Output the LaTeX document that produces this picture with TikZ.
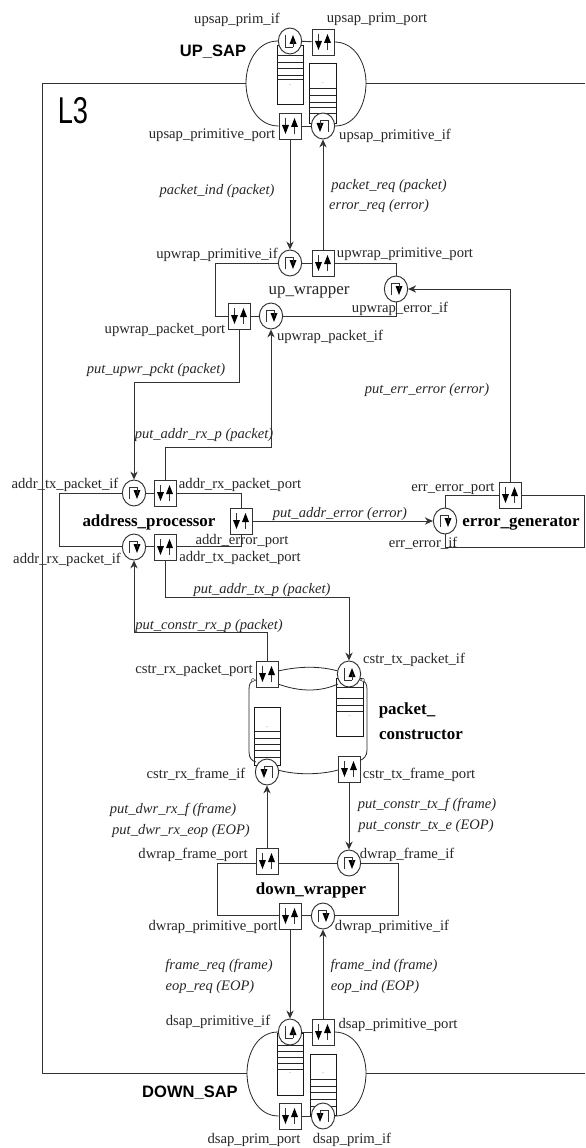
\documentclass[tikz,border=0pt]{standalone}
\usepackage{fontspec}
\setmainfont{Liberation Serif}
\setsansfont{Liberation Sans}
\usetikzlibrary{shapes.geometric,arrows.meta,calc}
\newcommand\dnarr[1]{\draw[line width=.7pt] (#1,-8) -- (#1,2);\fill[black] (#1-3.5,-1) -- (#1+3.5,-1) -- (#1,8) -- cycle;}
\newcommand\uparr[1]{\draw[line width=.7pt] (#1,8) -- (#1,-2);\fill[black] (#1-3.5,1) -- (#1+3.5,1) -- (#1,-8) -- cycle;}
\newcommand\lab[5][lbl]{\node[#1] (#2) at (#3,#4+1.5) {\detokenize{#5}};}
\tikzset{
  x=.75pt,y=-.75pt,
  line/.style={draw=black!80,line width=.7pt},
  arr/.style={line,-{Stealth[length=6pt,width=5.5pt]}},
  thinline/.style={draw=black!85,line width=.6pt},
  lbl/.style={font=\fontsize{11pt}{13pt}\selectfont,inner sep=0pt,text=black!85},
  ital/.style={lbl,font=\fontsize{10.9pt}{13pt}\selectfont\itshape},
  bold/.style={lbl,font=\fontsize{12.7pt}{15pt}\selectfont\bfseries,text=black},
  plain/.style={lbl,font=\fontsize{12.7pt}{15pt}\selectfont},
  sans/.style={lbl,font=\fontsize{12.4pt}{14pt}\selectfont\sffamily\bfseries,text=black},
  portbox/.style={draw=black!80,line width=.7pt,fill=white,rectangle,inner sep=0pt,minimum width=16.5pt,minimum height=19.5pt,
    path picture={\begin{scope}[shift={(path picture bounding box.center)}]\dnarr{-4.5}\uparr{4.5}\end{scope}}},
  ifbase/.style={draw=black!80,line width=.7pt,fill=white,ellipse,inner sep=0pt,minimum width=17.5pt,minimum height=19.5pt},
  ifgamma/.style={ifbase,path picture={\begin{scope}[shift={(path picture bounding box.center)}]\draw[line width=.6pt] (-5,6) -- (-5,-6) -- (3,-6);\fill[black] (-.5,-3) -- (6.5,-3) -- (3,6) -- cycle;\draw[line width=.6pt] (3,-6) -- (3,0);\end{scope}}},
  ifell/.style={ifbase,path picture={\begin{scope}[shift={(path picture bounding box.center)}]\draw[line width=.6pt] (-5,-6) -- (-5,6) -- (3,6);\fill[black] (-.5,3) -- (6.5,3) -- (3,-6) -- cycle;\draw[line width=.6pt] (3,6) -- (3,0);\end{scope}}},
  ifrev/.style={ifbase,path picture={\begin{scope}[shift={(path picture bounding box.center)}]\draw[line width=.6pt] (-3,-6) -- (5,-6) -- (5,6);\fill[black] (-6.5,-3) -- (.5,-3) -- (-3,6) -- cycle;\draw[line width=.6pt] (-3,-6) -- (-3,0);\end{scope}}},
  qbox/.style={draw=black!90,line width=.6pt,fill=white,rectangle,inner sep=0pt},
  dots/.style={inner sep=0pt,font=\fontsize{3pt}{3pt}\selectfont},
  biglabel/.style={lbl,font=\fontsize{28pt}{30pt}\selectfont\sffamily,text=black}
}
% name, left, top, right, bottom, then y of the rungs and of the dots
\newcommand\queue[7]{%
  \node[qbox,minimum width=#4*.75pt-#2*.75pt,minimum height=#5*.75pt-#3*.75pt] (#1) at ({(#2+#4)/2},{(#3+#5)/2}) {};
  \foreach \yy in {#6} {\draw[thinline] (#2,\yy) -- (#4,\yy);}
  \node[dots] (#1-d) at ({(#2+#4)/2},#7) {..};}
\begin{document}
\begin{tikzpicture}
\useasboundingbox (0,0) rectangle (585,1148);
% ---- L3 frame
\coordinate (upL) at (246,83);
\coordinate (upR) at (366,83);
\coordinate (dnL) at (247,1073);
\coordinate (dnR) at (366,1073);
\coordinate (cUL) at (42,83);
\coordinate (cDL) at (42,1073);
\coordinate (cUR) at (585,83);
\coordinate (cDR) at (585,1073);
\draw[line] (upL) -- (cUL) -- (cDL) -- (dnL);
\draw[line] (upR) -- (cUR);
\draw[line] (dnR) -- (cDR);
\node[biglabel] (L3) at (73,110.5) {\scalebox{.73}[1]{L3}};

% ---- UP_SAP
\queue{uq1}{277}{45}{303}{104}{55,62,68,75,79}{85}
\queue{uq2}{309}{63}{336}{123}{88,95,102,107,113}{83}
\node[ifell] (upsap_prim_if) at (290,41) {};
\node[portbox] (upsap_prim_port) at (323,42) {};
\node[portbox] (upsap_primitive_port) at (290,126) {};
\node[ifrev] (upsap_primitive_if) at (323,126) {};
\draw[line] (upsap_prim_if) -- (upsap_prim_port);
\draw[line] (upsap_primitive_port) -- (upsap_primitive_if);
\draw[thinline] (upsap_prim_if.west) to[out=180,in=90] (upL) to[out=-90,in=180] (upsap_primitive_port.west);
\draw[thinline] (upsap_prim_port.east) to[out=0,in=90] (upR) to[out=-90,in=0] (upsap_primitive_if.east);

% ---- up_wrapper
\coordinate (uwTL) at (215,263);
\coordinate (uwBL) at (215,316);
\coordinate (uwTR) at (396,263);
\coordinate (uwBR) at (396,316);
\draw[line] (uwTL) -- (uwBL) -- (uwBR) -- (uwTR) -- (uwTL);
\node[ifgamma] (upwrap_primitive_if) at (290,263) {};
\node[portbox] (upwrap_primitive_port) at (323,263) {};
\node[portbox] (upwrap_packet_port) at (239,316) {};
\node[ifgamma] (upwrap_packet_if) at (271,316) {};
\node[ifgamma] (upwrap_error_if) at (396,289) {};

% ---- address_processor
\coordinate (apTL) at (59,493);
\coordinate (apBL) at (59,546);
\coordinate (apTR) at (241,493);
\coordinate (apBR) at (241,546);
\draw[line] (apTR) -- (apTL) -- (apBL) -- (apBR) -- (apTR);
\node[ifgamma] (addr_tx_packet_if) at (134,493) {};
\node[portbox] (addr_rx_packet_port) at (165,493) {};
\node[ifgamma] (addr_rx_packet_if) at (134,547) {};
\node[portbox] (addr_tx_packet_port) at (165,547) {};
\node[portbox] (addr_error_port) at (241,521) {};

% ---- error_generator
\coordinate (egTL) at (445,495);
\coordinate (egTR) at (584,495);
\coordinate (egBR) at (584,547);
\coordinate (egBL) at (445,547);
\draw[line] (egTL) -- (egTR) -- (egBR) -- (egBL) -- cycle;
\node[ifgamma] (err_error_if) at (445,521) {};
\node[portbox] (err_error_port) at (510,495) {};

% ---- packet constructor
\queue{cq1}{254}{707}{280}{765}{731,738,744,750,757}{727}
\queue{cq2}{336}{678}{363}{736}{687,698,705,711}{716}
\draw[thinline] (278,671) .. controls (300,666) and (320,666) .. (338,671);
\draw[thinline] (278,684) .. controls (300,692) and (320,692) .. (338,684);
\draw[thinline] (278,770) .. controls (295,775) and (320,775) .. (338,770);
\draw[thinline] (256,680) .. controls (250,681) and (249,684) .. (249,690) -- (249,752) .. controls (249,758) and (252,761) .. (256,762);
\draw[thinline] (360,680) .. controls (366,681) and (367,684) .. (367,690) -- (367,750) .. controls (367,756) and (364,759) .. (359,761);
\node[draw=black!60,fill=white,circle,inner sep=0pt,minimum size=2.5pt,line width=.4pt] (blobL) at (253,680) {};
\node[draw=black!60,fill=white,circle,inner sep=0pt,minimum size=2.5pt,line width=.4pt] (blobR) at (363,680) {};
\node[portbox] (cstr_rx_packet_port) at (267,674) {};
\node[ifell] (cstr_tx_packet_if) at (349,674) {};
\node[ifrev] (cstr_rx_frame_if) at (267,772) {};
\node[portbox] (cstr_tx_frame_port) at (349,769) {};

% ---- down_wrapper
\coordinate (dwTL) at (217,863);
\coordinate (dwTR) at (398,863);
\coordinate (dwBR) at (398,915);
\coordinate (dwBL) at (217,915);
\draw[line] (dwTL) -- (dwTR) -- (dwBR) -- (dwBL) -- cycle;
\node[portbox] (dwrap_frame_port) at (267,861) {};
\node[ifgamma] (dwrap_frame_if) at (349,863) {};
\node[portbox] (dwrap_primitive_port) at (290,916) {};
\node[ifgamma] (dwrap_primitive_if) at (323,916) {};

% ---- DOWN_SAP
\queue{dq1}{277}{1033}{303}{1095}{1045,1051,1057,1063,1069}{1073}
\queue{dq2}{310}{1054}{336}{1115}{1079,1086,1092,1099,1106}{1073}
\node[ifell] (dsap_primitive_if) at (290,1032) {};
\node[portbox] (dsap_primitive_port) at (323,1032) {};
\node[portbox] (dsap_prim_port) at (290,1116) {};
\node[ifrev] (dsap_prim_if) at (323,1116) {};
\draw[line] (dsap_primitive_if) -- (dsap_primitive_port);
\draw[line] (dsap_prim_port) -- (dsap_prim_if);
\draw[thinline] (dsap_primitive_if.west) to[out=180,in=90] (dnL) to[out=-90,in=180] (dsap_prim_port.west);
\draw[thinline] (dsap_primitive_port.east) to[out=0,in=90] (dnR) to[out=-90,in=0] (dsap_prim_if.east);

% ---- connectors
\draw[arr] (upsap_primitive_port) -- (upwrap_primitive_if);
\draw[arr] (upwrap_primitive_port) -- (upsap_primitive_if);
\coordinate (a1) at (239,382);
\coordinate (a2) at (134,382);
\draw[arr] (upwrap_packet_port) -- (a1) -- (a2) -- (addr_tx_packet_if);
\coordinate (a3) at (165,447);
\coordinate (a4) at (271,447);
\draw[arr] (addr_rx_packet_port) -- (a3) -- (a4) -- (upwrap_packet_if);
\coordinate (a5) at (510,289);
\draw[arr] (err_error_port) -- (a5) -- (upwrap_error_if);
\draw[arr] (addr_error_port) -- (err_error_if);
\coordinate (a6) at (165,597);
\coordinate (a7) at (349,597);
\draw[arr] (addr_tx_packet_port) -- (a6) -- (a7) -- (cstr_tx_packet_if);
\coordinate (a8) at (267,632);
\coordinate (a9) at (134,632);
\draw[arr] (cstr_rx_packet_port) -- (a8) -- (a9) -- (addr_rx_packet_if);
\draw[arr] (dwrap_frame_port) -- (cstr_rx_frame_if);
\draw[arr] (cstr_tx_frame_port) -- (dwrap_frame_if);
\draw[arr] (dwrap_primitive_port) -- (dsap_primitive_if);
\draw[arr] (dsap_primitive_port) -- (dwrap_primitive_if);

% ---- labels
\lab{t1}{237}{18}{upsap_prim_if}
\lab{t2}{377}{18}{upsap_prim_port}
\lab[sans]{t3}{213}{50}{UP_SAP}
\lab{t4}{212}{134}{upsap_primitive_port}
\lab{t5}{395}{134}{upsap_primitive_if}
\lab[ital]{t6}{217}{190}{packet_ind (packet)}
\lab[ital]{t7}{389}{185}{packet_req (packet)}
\lab[ital]{t8}{379}{205}{error_req (error)}
\lab{t9}{217}{253}{upwrap_primitive_if}
\lab{t10}{405}{253}{upwrap_primitive_port}
\lab[plain]{t11}{309}{291}{up_wrapper}
\lab{t12}{400}{307}{upwrap_error_if}
\lab{t13}{165}{328}{upwrap_packet_port}
\lab{t14}{330}{335}{upwrap_packet_if}
\lab[ital]{t15}{156}{369}{put_upwr_pckt (packet)}
\lab[ital]{t16}{427}{389}{put_err_error (error)}
\lab[ital]{t17}{204}{434}{put_addr_rx_p (packet)}
\lab{t18}{65}{483}{addr_tx_packet_if}
\lab{t19}{240}{483}{addr_rx_packet_port}
\lab[bold]{t20}{149}{521}{address_processor}
\lab{t21}{242}{539}{addr_error_port}
\lab{t22}{240}{556}{addr_tx_packet_port}
\lab{t23}{67}{558}{addr_rx_packet_if}
\lab[ital]{t24}{340}{513}{put_addr_error (error)}
\lab{t25}{453}{487}{err_error_port}
\lab{t26}{423}{542}{err_error_if}
\lab[bold]{t27}{521}{522}{error_generator}
\lab[ital]{t28}{262}{588}{put_addr_tx_p (packet)}
\lab[ital]{t29}{209}{624}{put_constr_rx_p (packet)}
\lab{t30}{194}{668}{cstr_rx_packet_port}
\lab{t31}{414}{658}{cstr_tx_packet_if}
\lab[bold]{t32}{407}{709}{packet_}
\lab[bold]{t33}{421}{733}{constructor}
\lab{t34}{196}{773}{cstr_rx_frame_if}
\lab{t35}{419}{773}{cstr_tx_frame_port}
\lab[ital]{t36}{173}{808}{put_dwr_rx_f (frame)}
\lab[ital]{t37}{181}{829}{put_dwr_rx_eop (EOP)}
\lab[ital]{t38}{427}{803}{put_constr_tx_f (frame)}
\lab[ital]{t39}{426}{824}{put_constr_tx_e (EOP)}
\lab{t40}{193}{853}{dwrap_frame_port}
\lab{t41}{407}{853}{dwrap_frame_if}
\lab[bold]{t42}{311}{889}{down_wrapper}
\lab{t43}{213}{925}{dwrap_primitive_port}
\lab{t44}{392}{925}{dwrap_primitive_if}
\lab[ital]{t45}{219}{964}{frame_req (frame)}
\lab[ital]{t46}{210}{985}{eop_req (EOP)}
\lab[ital]{t47}{384}{964}{frame_ind (frame)}
\lab[ital]{t48}{375}{985}{eop_ind (EOP)}
\lab{t49}{218}{1020}{dsap_primitive_if}
\lab{t50}{398}{1023}{dsap_primitive_port}
\lab[sans]{t51}{190}{1091}{DOWN_SAP}
\lab{t52}{254}{1138}{dsap_prim_port}
\lab{t53}{352}{1138}{dsap_prim_if}
\end{tikzpicture}
\end{document}
